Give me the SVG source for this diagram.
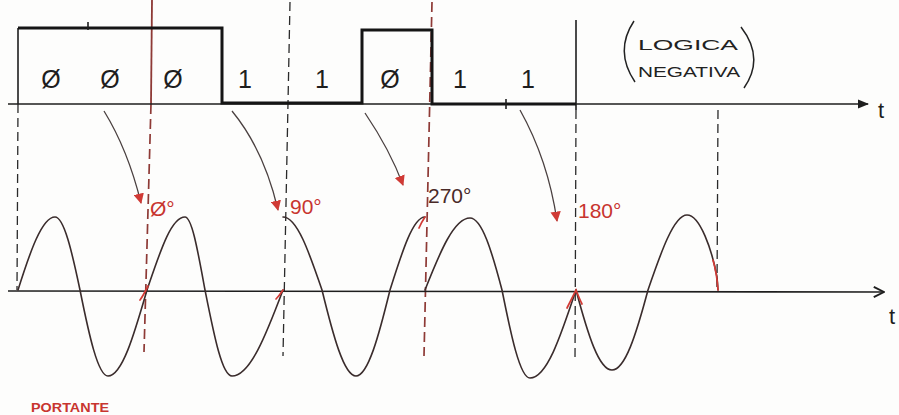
<svg xmlns="http://www.w3.org/2000/svg" width="899" height="415" viewBox="0 0 899 415">
<style>
.ax{stroke:#1e1e1e;stroke-width:1.6;fill:none}
.sig{stroke:#151515;stroke-width:3;fill:none;stroke-linejoin:miter}
.wave{stroke:#3a2c2c;stroke-width:1.6;fill:none;stroke-linecap:round}
.redw{stroke:#d23a35;stroke-width:1.7;fill:none;stroke-linecap:round}
.dash{stroke:#2a2a2a;stroke-width:1.3;stroke-dasharray:9 5;fill:none}
.dashr{stroke:#8e3a36;stroke-width:1.7;stroke-dasharray:10 5;fill:none}
.arr{stroke:#4a4040;stroke-width:1.3;fill:none}
.bit{font-family:"Liberation Sans",Arial,sans-serif;font-size:25px;fill:#1e1e1e;text-anchor:middle}
.lbl{font-family:"Liberation Sans",Arial,sans-serif;font-size:21px;fill:#c8352f}
.note{font-family:"Liberation Sans",Arial,sans-serif;font-size:14px;fill:#222}
</style>
<defs>
<marker id="ah" viewBox="0 0 10 10" refX="9" refY="5" markerWidth="8" markerHeight="8" orient="auto-start-reverse">
<path d="M0,0 L10,5 L0,10 z" fill="#d03a35"/>
</marker>
<marker id="axa" viewBox="0 0 10 10" refX="9" refY="5" markerWidth="7" markerHeight="7" orient="auto">
<path d="M0,1 L10,5 L0,9 z" fill="#1e1e1e"/>
</marker>
<marker id="axo" viewBox="0 0 10 10" refX="9" refY="5" markerWidth="8" markerHeight="8" orient="auto">
<path d="M1,1 L9,5 L1,9" fill="none" stroke="#1e1e1e" stroke-width="1.5"/>
</marker>
</defs>
<rect width="899" height="415" fill="#fdfdfc"/>

<g id="guides">
<line class="ax" x1="18" y1="28" x2="18" y2="104"/>
<line class="dash" x1="18" y1="104" x2="17" y2="290"/>
<line x1="152" y1="0" x2="151" y2="104" stroke="#8e3a36" stroke-width="1.8"/>
<line class="dashr" x1="151" y1="104" x2="144" y2="352"/>
<line class="dash" x1="290" y1="2" x2="283" y2="356"/>
<line class="dashr" x1="432" y1="2" x2="424" y2="356"/>
<line class="ax" x1="576" y1="20" x2="576" y2="110"/>
<line class="dash" x1="576" y1="110" x2="575" y2="362"/>
<line class="dash" x1="718" y1="110" x2="717" y2="290"/>
</g>

<g id="axes">
<line class="ax" x1="8" y1="104" x2="868" y2="104" marker-end="url(#axa)"/>
<text x="878" y="118" font-family="Liberation Sans,Arial,sans-serif" font-size="22" fill="#1e1e1e">t</text>
<line class="ax" x1="8" y1="291" x2="884" y2="292" marker-end="url(#axo)"/>
<text x="889" y="324" font-family="Liberation Sans,Arial,sans-serif" font-size="22" fill="#1e1e1e">t</text>
</g>

<g id="digital-signal">
<path class="sig" d="M18,28 L222,28 L222,103 L362,103 L362,30 L432,30 L432,104 L576,104"/>
<line class="ax" x1="88" y1="22" x2="88" y2="30"/>
<line class="ax" x1="506" y1="99" x2="506" y2="109"/>
</g>

<g id="bits">
<text class="bit" x="51" y="88">Ø</text>
<text class="bit" x="110" y="88">Ø</text>
<text class="bit" x="173" y="88">Ø</text>
<text class="bit" x="245" y="88">1</text>
<text class="bit" x="322" y="88">1</text>
<text class="bit" x="390" y="88">Ø</text>
<text class="bit" x="460" y="88">1</text>
<text class="bit" x="528" y="88">1</text>
</g>

<g id="note">
<path d="M634,21 Q614,51 635,82" stroke="#222" stroke-width="1.5" fill="none"/>
<path d="M741,27 Q765,58 744,88" stroke="#222" stroke-width="1.5" fill="none"/>
<text class="note" x="638" y="50" textLength="100" lengthAdjust="spacingAndGlyphs">LOGICA</text>
<text class="note" x="638" y="77" textLength="102" lengthAdjust="spacingAndGlyphs">NEGATIVA</text>
</g>

<g id="connectors">
<path class="arr" d="M104,111 Q128,150 141,203" marker-end="url(#ah)"/>
<path class="arr" d="M232,111 Q264,150 278,210" marker-end="url(#ah)"/>
<path class="arr" d="M365,113 Q390,150 403,185" marker-end="url(#ah)"/>
<path class="arr" d="M520,110 Q548,160 557,221" marker-end="url(#ah)"/>
</g>

<g id="phase-labels">
<text class="lbl" x="150" y="216">Ø°</text>
<text class="lbl" x="290" y="214">90°</text>
<text class="lbl" x="428" y="203" style="fill:#4a2a28">270°</text>
<text class="lbl" x="578" y="218">180°</text>
</g>

<g id="carrier">
<path class="wave" d="M18,290 C30,252 42,217 55,217 C64,217 72,252 80,290 C89,335 98,376 108,376 C122,376 134,335 147,290"/>
<path class="wave" d="M147,290 C160,252 171,217 185,217 C192,217 198,252 205,290 C214,335 222,376 232,376 C250,376 266,335 283,290"/>
<path class="wave" d="M283,217 C297,217 309,252 322,290 C333,335 344,376 356,376 C368,376 379,335 390,290 C402,252 413,217 425,217"/>
<path class="wave" d="M425,290 C440,252 454,218 470,218 C482,218 492,252 502,290 C511,335 520,378 530,378 C547,378 561,335 576,290"/>
<path class="wave" d="M576,290 C588,335 599,370 612,370 C625,370 636,335 648,290 C661,252 674,215 687,215 C700,215 712,250 717,277 L718,290"/>
<path class="redw" d="M140,300 C143,296 145,292 148,286"/>
<path class="redw" d="M276,299 C279,296 281,293 283,290"/>
<path class="redw" d="M419,228 C421,223 423,220 425,217"/>
<path class="redw" d="M567,308 C570,302 573,296 576,290 C578,295 580,300 582,304"/>
<path class="redw" d="M713,260 C715,267 717,274 718,290"/>
</g>

<text x="31" y="412" font-family="Liberation Sans,Arial,sans-serif" font-size="12" font-weight="bold" fill="#c8352f" textLength="78" lengthAdjust="spacingAndGlyphs">PORTANTE</text>
</svg>
